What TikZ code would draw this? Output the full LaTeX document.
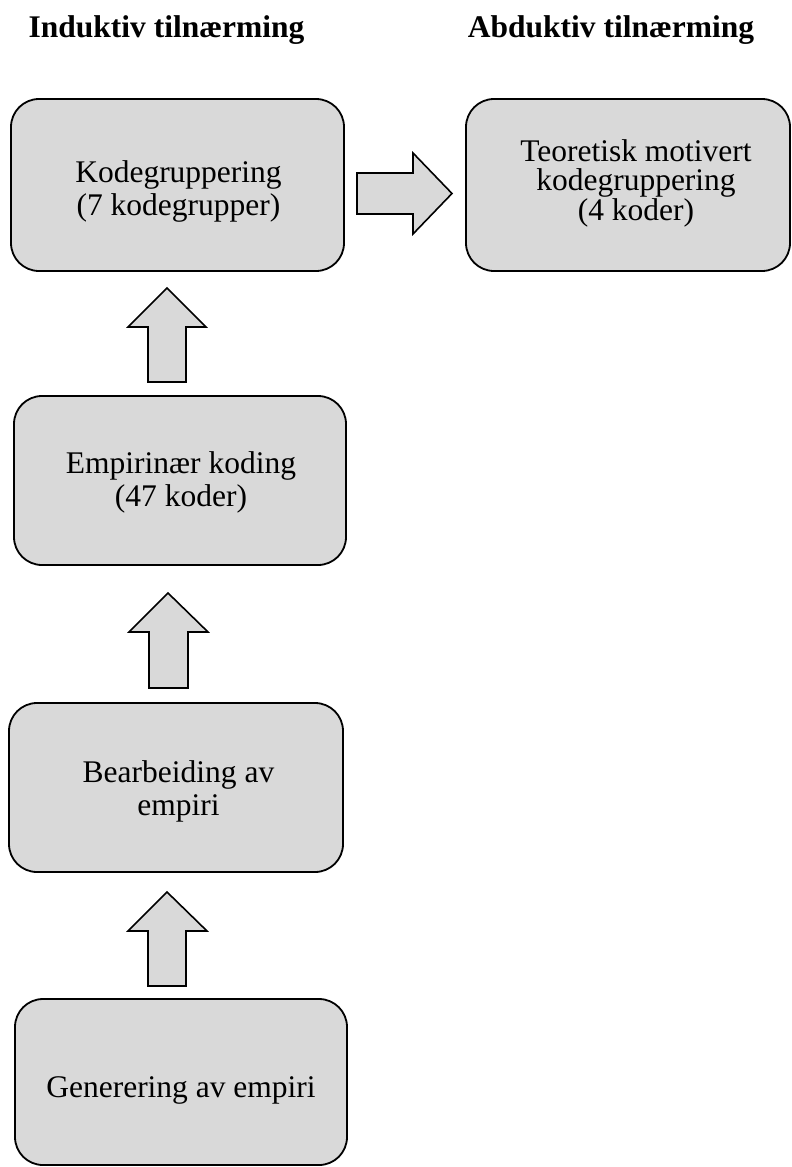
\documentclass[tikz,border=0pt]{standalone}
\usepackage{fontspec}
\setmainfont{Liberation Serif}
\definecolor{boxgray}{HTML}{D9D9D9}
\begin{document}
\begin{tikzpicture}[x=1pt,y=-1pt,
  box/.style={draw=black, line width=1.8pt, fill=boxgray, rounded corners=28pt, inner sep=0pt},
  lbl/.style={align=center, inner sep=0pt, font=\fontsize{31.5}{33}\selectfont},
  title/.style={inner sep=0pt, anchor=base, font=\fontsize{31.5}{36}\selectfont\bfseries},
  blockarrow/.style={draw=black, line width=1.6pt, fill=boxgray, line join=miter}]
\useasboundingbox (0,0) rectangle (792,1167);
% titles
\node[title] (t1) at (166.5,37) {Induktiv tilnærming};
\node[title] (t2) at (611,37) {Abduktiv tilnærming};
% boxes
\node[box, minimum width=333pt, minimum height=172pt] (k1) at (177.5,185) {};
\node[box, minimum width=324pt, minimum height=172pt] (k2) at (628,185) {};
\node[box, minimum width=332pt, minimum height=169pt] (k3) at (180,480.5) {};
\node[box, minimum width=334pt, minimum height=169pt] (k4) at (176,787.5) {};
\node[box, minimum width=332pt, minimum height=166pt] (k5) at (181,1082) {};
% labels (anchored at the baseline of their last line)
\node[lbl, anchor=base] (l1) at (178.5,215) {Kodegruppering\\(7 kodegrupper)};
\node[lbl, anchor=base, font=\fontsize{31.5}{29.5}\selectfont] (l2) at (636,220) {Teoretisk motivert\\kodegruppering\\(4 koder)};
\node[lbl, anchor=base] (l3) at (181,506) {Empirinær koding\\(47 koder)};
\node[lbl, anchor=base] (l4) at (178.5,815) {Bearbeiding av\\empiri};
\node[lbl, anchor=base] (l5) at (181,1097) {Generering av empiri};
% block arrows
\draw[blockarrow] (357,173) -- (413,173) -- (413,153) -- (452,193.5) -- (413,234) -- (413,214) -- (357,214) -- cycle;
\draw[blockarrow] (148,382) -- (148,327) -- (128,327) -- (167,288) -- (206,327) -- (186,327) -- (186,382) -- cycle;
\draw[blockarrow] (149,688) -- (149,632) -- (129,632) -- (168,593) -- (208,632) -- (188,632) -- (188,688) -- cycle;
\draw[blockarrow] (148,986) -- (148,931) -- (128,931) -- (167,892) -- (207,931) -- (186,931) -- (186,986) -- cycle;
\end{tikzpicture}
\end{document}
